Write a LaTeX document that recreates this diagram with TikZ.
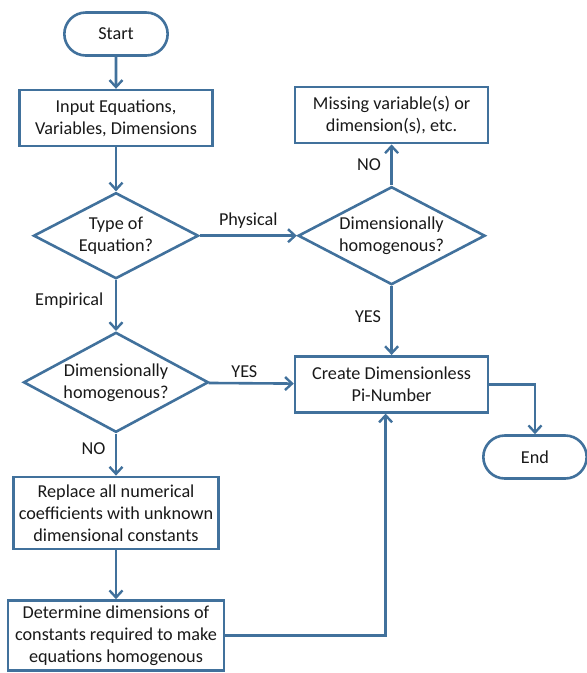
\documentclass[tikz,border=0pt]{standalone}
\usepackage{fontspec}
\setmainfont{Carlito}
\usepackage{tikz}
\usetikzlibrary{shapes.geometric,shapes.misc,arrows.meta,positioning,calc}
\definecolor{flowblue}{RGB}{65,113,156}
\definecolor{textgray}{RGB}{25,25,25}

\begin{document}
\begin{tikzpicture}[
    x=1pt, y=1pt,
    >={Straight Barb[length=7pt,width=13pt,line width=2.4pt]},
    every node/.style={font=\fontsize{18.2}{22}\selectfont, text=textgray},
    flow/.style={->, draw=flowblue, line width=2.6pt},
    procbox/.style={rectangle, draw=flowblue, line width=2.6pt, fill=white, align=center, inner sep=2pt},
    decision/.style={diamond, draw=flowblue, line width=2.6pt, fill=white, align=center, inner sep=0pt, aspect=2},
    terminal/.style={rounded rectangle, draw=flowblue, line width=2.6pt, fill=white, minimum width=110pt, minimum height=43pt}
]
    \useasboundingbox (0,0) rectangle (587,-673);

    \node (start) [terminal] at (116,-34) {Start};
    \node (input) [procbox, minimum width=193pt, minimum height=56pt, below=32pt of start] {Input Equations,\\Variables, Dimensions};
    \node (eqtype) [decision, minimum width=165pt, minimum height=86pt, below=44pt of input] {Type of\\Equation?};
    \node (homemp) [decision, minimum width=185pt, minimum height=100pt, below=51pt of eqtype] {Dimensionally\\homogenous?};
    \node (replace) [procbox, minimum width=205pt, minimum height=72pt, below=42pt of homemp] {Replace all numerical\\coefficients with unknown\\dimensional constants};
    \node (determine) [procbox, minimum width=216pt, minimum height=70pt, below=49pt of replace] {Determine dimensions of\\constants required to make\\equations homogenous};
    \node (homphys) [decision, minimum width=187pt, minimum height=98pt, right=97pt of eqtype] {Dimensionally\\homogenous?};
    \node (missing) [procbox, minimum width=193pt, minimum height=56pt, above=41pt of homphys] {Missing variable(s) or\\dimension(s), etc.};
    \node (create) [procbox, minimum width=193pt, minimum height=56pt, below=69pt of homphys] {Create Dimensionless\\Pi-Number};
    \node (end) [terminal] at (535,-457) {End};

    \draw[flow] (start) -- (input);
    \draw[flow] (input) -- (eqtype);
    \draw[flow] (eqtype) -- node[above=3pt] {Physical} (homphys);
    \draw[flow] (eqtype) -- node[left=8pt, pos=0.4] {Empirical} (homemp);
    \draw[flow] (homphys) -- node[left=6pt] {NO} (missing);
    \draw[flow] (homphys) -- node[left=6pt, pos=0.45] {YES} (create);
    \draw[flow] (homemp) -- node[above=1pt, pos=0.42] {YES} (create);
    \draw[flow] (homemp) -- node[left=6pt, pos=0.35] {NO} (replace);
    \draw[flow] (replace) -- (determine);
    \draw[flow] (determine.east) -| ([xshift=-6pt]create.south);
    \draw[flow] (create.east) -| (end.north);

\end{tikzpicture}
\end{document}
